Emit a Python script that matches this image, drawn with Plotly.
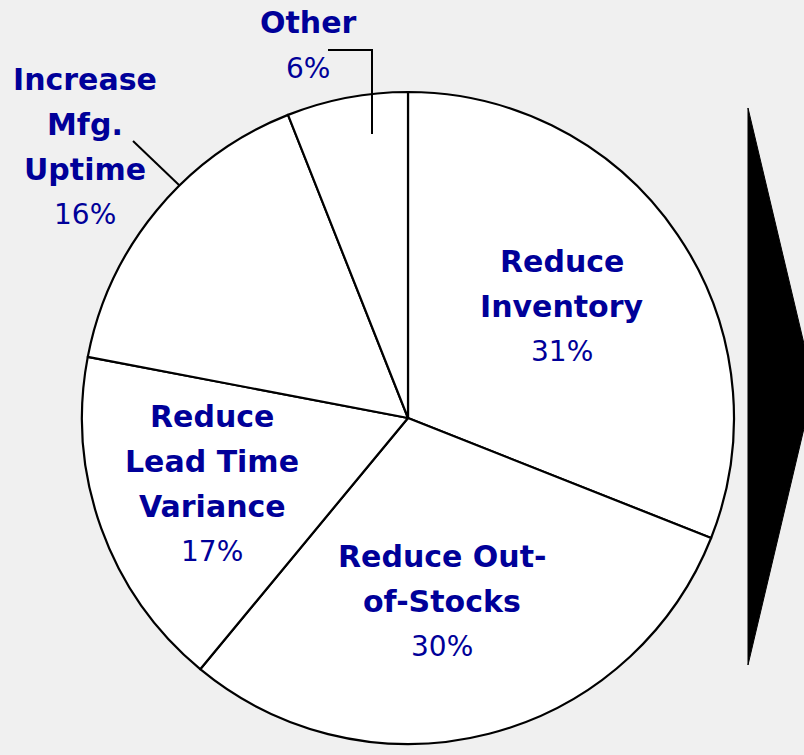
import plotly.graph_objects as go

W, H = 804, 755

categories = ["Reduce Inventory", "Reduce Out-of-Stocks", "Reduce Lead Time Variance",
              "Increase Mfg. Uptime", "Other"]
values = [31, 30, 17, 16, 6]
name_lines = [["Reduce", "Inventory"], ["Reduce Out-", "of-Stocks"],
              ["Reduce", "Lead Time", "Variance"], ["Increase", "Mfg.", "Uptime"], ["Other"]]

# layout: label block anchors (pixel centre x, first-line centre y)
label_pos = [(562, 261), (442, 556), (212, 416), (85, 79), (308, 23)]
LINE_GAP = 45

TEXT_COLOR = "#000099"
FONT = "DejaVu Sans"


def px(x):
    return x / W


def py(y):
    return 1 - y / H


cx, cy, r = 408, 418, 326

fig = go.Figure()
fig.add_trace(go.Pie(
    labels=categories,
    values=values,
    sort=False,
    direction="clockwise",
    rotation=0,
    textinfo="none",
    marker=dict(colors=["#ffffff"] * len(values), line=dict(color="#000000", width=2.2)),
    domain=dict(x=[px(cx - r), px(cx + r)], y=[py(cy + r), py(cy - r)]),
    showlegend=False,
    hoverinfo="label+percent",
))

annotations = []
for lines, v, (x, y) in zip(name_lines, values, label_pos):
    for i, ln in enumerate(lines):
        annotations.append(dict(
            x=px(x), y=py(y + i * LINE_GAP), xref="paper", yref="paper",
            text="<b>%s</b>" % ln, showarrow=False, xanchor="center", yanchor="middle",
            font=dict(family=FONT, size=30, color=TEXT_COLOR)))
    annotations.append(dict(
        x=px(x), y=py(y + len(lines) * LINE_GAP), xref="paper", yref="paper",
        text="%d%%" % v, showarrow=False, xanchor="center", yanchor="middle",
        font=dict(family=FONT, size=28, color=TEXT_COLOR)))

shapes = [
    # leader line for "Other"
    dict(type="path", xref="paper", yref="paper",
         path="M %f %f L %f %f L %f %f" % (px(328), py(50), px(372), py(50), px(372), py(134)),
         line=dict(color="#000000", width=2)),
    # leader line for "Increase Mfg. Uptime"
    dict(type="line", xref="paper", yref="paper",
         x0=px(133), y0=py(141), x1=px(179), y1=py(185),
         line=dict(color="#000000", width=2)),
    # black arrow on the right
    dict(type="path", xref="paper", yref="paper",
         path="M %f %f L %f %f L %f %f Z" % (px(748), py(108), px(814), py(386), px(748), py(665)),
         fillcolor="#000000", line=dict(color="#000000", width=1)),
]

fig.update_layout(
    width=W, height=H,
    margin=dict(l=0, r=0, t=0, b=0),
    paper_bgcolor="#f0f0f0",
    plot_bgcolor="#f0f0f0",
    annotations=annotations,
    shapes=shapes,
)

fig.write_html("out.html", config={"displayModeBar": False},
               post_script="document.body.style.margin='0';")
